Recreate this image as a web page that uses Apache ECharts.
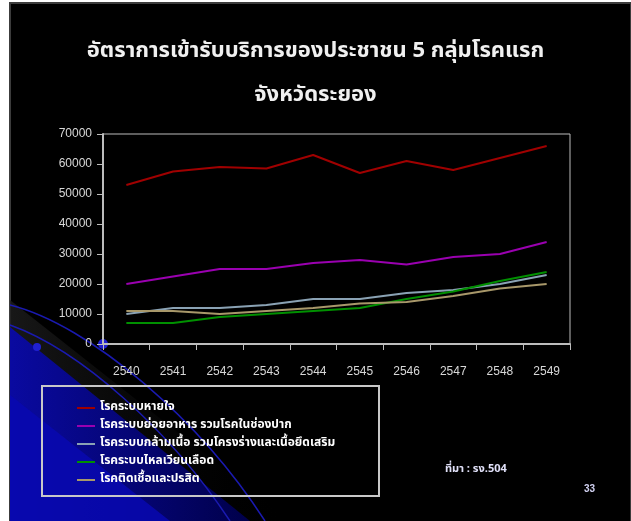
<!DOCTYPE html>
<html><head><meta charset="utf-8">
<script src="https://cdn.jsdelivr.net/npm/echarts@6/dist/echarts.min.js"></script>
<style>html,body{margin:0;padding:0;background:#fff}#c{width:631px;height:521px}</style>
</head><body><div id="c"></div>
<script>
var years = ['2540','2541','2542','2543','2544','2545','2546','2547','2548','2549'];
var seriesNames = [
  'โรคระบบหายใจ',
  'โรคระบบย่อยอาหาร รวมโรคในช่องปาก',
  'โรคระบบกล้ามเนื้อ รวมโครงร่างและเนื้อยึดเสริม',
  'โรคระบบไหลเวียนเลือด',
  'โรคติดเชื้อและปรสิต'
];
var respiratory = [53000, 57500, 59000, 58500, 63000, 57000, 61000, 58000, 62000, 66000];
var digestive   = [20000, 22500, 25000, 25000, 27000, 28000, 26500, 29000, 30000, 34000];
var muscular    = [10000, 12000, 12000, 13000, 15000, 15000, 17000, 18000, 20000, 23000];
var circulatory = [7000, 7000, 9000, 10000, 11000, 12000, 15000, 17500, 21000, 24000];
var infectious  = [11000, 11000, 10000, 11000, 12000, 13500, 14000, 16000, 18500, 20000];
var yTicks = [0, 10000, 20000, 30000, 40000, 50000, 60000, 70000];
var colors = ['#a00000', '#9a00b0', '#8aa2b4', '#009000', '#a8986a'];
var titleLines = ['อัตราการเข้ารับบริการของประชาชน 5 กลุ่มโรคแรก', 'จังหวัดระยอง'];

var chart = echarts.init(document.getElementById('c'));
var dataSets = [respiratory, digestive, muscular, circulatory, infectious];
var thaiFont = 'Noto Sans Thai, Noto Sans, DejaVu Sans, sans-serif';

chart.setOption({
  backgroundColor: '#ffffff',
  animation: false,
  title: {
    text: titleLines.join('\n'),
    left: 'center', top: 26,
    textStyle: { color: '#f0f0f0', fontSize: 22, fontWeight: 'bold', lineHeight: 44, fontFamily: thaiFont }
  },
  legend: {
    orient: 'vertical', left: 72, top: 396, itemGap: 4,
    itemWidth: 18, itemHeight: 2, icon: 'rect',
    textStyle: { color: '#ffffff', fontSize: 12, fontWeight: 'bold', lineHeight: 14, fontFamily: thaiFont },
    data: seriesNames
  },
  grid: { left: 103, top: 134, right: 61, bottom: 177, show: true, borderColor: '#bcbcbc', borderWidth: 1 },
  xAxis: {
    type: 'category', data: years, boundaryGap: true,
    axisLine: { lineStyle: { color: '#bcbcbc', width: 2 } },
    axisTick: { show: true, length: 6, inside: false, lineStyle: { color: '#bcbcbc' } },
    axisLabel: { color: '#d8d8d8', fontSize: 12, margin: 22, fontFamily: 'Liberation Sans' }
  },
  yAxis: {
    type: 'value', min: 0, max: 70000, interval: 10000,
    axisLine: { show: true, lineStyle: { color: '#bcbcbc', width: 2 } },
    axisTick: { show: true, length: 6, lineStyle: { color: '#bcbcbc' } },
    splitLine: { show: false },
    axisLabel: { color: '#d8d8d8', fontSize: 12, margin: 11, fontFamily: 'Liberation Sans',
      formatter: function (v) { return yTicks.indexOf(v) >= 0 ? String(v) : ''; } }
  },
  series: dataSets.map(function (d, i) {
    return { name: seriesNames[i], type: 'line', data: d, showSymbol: false, symbol: 'none',
      lineStyle: { color: colors[i], width: 2 }, itemStyle: { color: colors[i] }, z: 3 };
  }),
  graphic: [
    { type: 'rect', z: -100, shape: { x: 10, y: 3, width: 621, height: 520 },
      style: { fill: '#000000', stroke: '#3c3c3c', lineWidth: 2 } },
    { type: 'polygon', z: -90, shape: { points: [[10, 300], [290, 521], [10, 521]] },
      style: { fill: { type: 'linear', x: 0, y: 0, x2: 1, y2: 0, colorStops: [
        { offset: 0, color: 'rgba(30,30,30,0.8)' }, { offset: 1, color: 'rgba(0,0,0,0)' }] } } },
    { type: 'polygon', z: -89, shape: { points: [[10, 327], [250, 521], [10, 521]] },
      style: { fill: { type: 'linear', x: 0, y: 0, x2: 1, y2: 0, colorStops: [
        { offset: 0, color: '#0a0aa0' }, { offset: 1, color: '#00004a' }] } } },
    { type: 'polygon', z: -88, shape: { points: [[10, 395], [170, 521], [10, 521]] },
      style: { fill: '#0808b0', opacity: 0.85 } },
    { type: 'bezierCurve', z: -85, shape: { x1: 10, y1: 305, x2: 265, y2: 521, cpx1: 90, cpy1: 325, cpx2: 200, cpy2: 420 },
      style: { stroke: '#1a1ab0', lineWidth: 1.5, fill: null } },
    { type: 'bezierCurve', z: -85, shape: { x1: 10, y1: 325, x2: 230, y2: 521, cpx1: 80, cpy1: 350, cpx2: 170, cpy2: 430 },
      style: { stroke: '#1a1ab0', lineWidth: 1.5, fill: null } },
    { type: 'circle', z: -80, shape: { cx: 103, cy: 344, r: 5 }, style: { fill: '#2020d0' } },
    { type: 'circle', z: -80, shape: { cx: 37, cy: 347, r: 4 }, style: { fill: '#2020d0' } },
    { type: 'rect', z: 5, shape: { x: 42, y: 386, width: 337, height: 110 },
      style: { fill: null, stroke: '#c8c8c8', lineWidth: 2 } },
    { type: 'text', z: 5, left: 445, top: 464,
      style: { text: 'ที่มา : รง.504', fill: '#e0e0f8', font: 'bold 11px ' + thaiFont } },
    { type: 'text', z: 5, left: 584, top: 484,
      style: { text: '33', fill: '#d0d0f0', font: 'bold 10px Liberation Sans' } }
  ]
});
</script></body></html>
